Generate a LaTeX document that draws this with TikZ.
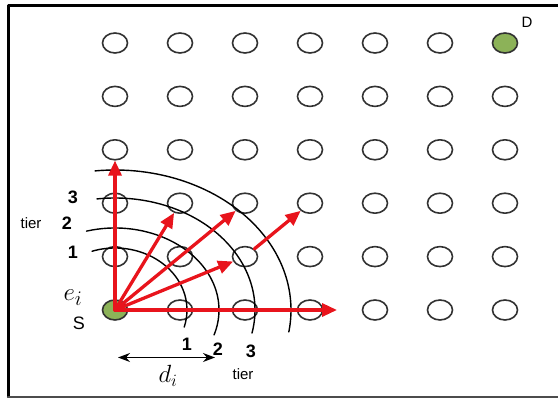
\documentclass[tikz,border=0pt]{standalone}
\usepackage{fontspec}
\setmainfont{Liberation Sans}
\usetikzlibrary{shapes.geometric,arrows.meta}
\definecolor{hopred}{RGB}{232,20,28}
\definecolor{nodegreen}{RGB}{140,178,88}
\definecolor{rimgray}{RGB}{50,50,50}

\begin{document}
\begin{tikzpicture}[x=1pt, y=1pt, line cap=round, line join=round,
  site/.style={ellipse, draw=rimgray, line width=1.6pt, minimum width=25pt, minimum height=20pt, inner sep=0pt},
  hop/.style={draw=hopred, line width=3.3pt, -{Triangle[length=15pt,width=13pt]}},
  tierarc/.style={line width=1.4pt},
  num/.style={font=\fontsize{18}{18}\selectfont\bfseries},
  word/.style={font=\fontsize{15}{15}\selectfont}]
  \def\dx{65}
  \def\dy{53.4}

  \useasboundingbox (0,0) rectangle (558,398);

  % cornice
  \draw[line width=3pt] (560,392) -- (8,392) -- (8,1);
  \draw[line width=2.4pt, black!70] (8,1) -- (560,1);

  % griglia di nodi (S in basso a sinistra, D in alto a destra)
  \foreach \i in {0,...,6}
    \foreach \j in {0,...,5}{
      \def\fillc{none}
      \ifnum\i\j=0 \def\fillc{nodegreen}\fi
      \ifnum\i\j=65 \def\fillc{nodegreen}\fi
      \node[site, fill=\fillc] (n-\i-\j) at ({115+\dx*\i},{88+\dy*\j}) {};
    }

  % archi dei tier
  \foreach \rx/\ry/\sa/\ea in {72/62/108.6/-16, 104/82/105.9/-17.7, 140/112/97.4/-11.9, 176/140/96.5/-9}
    \draw[tierarc] (n-0-0.center) ++(\sa:\rx pt and \ry pt)
      arc[start angle=\sa, end angle=\ea, x radius=\rx pt, y radius=\ry pt];

  % frecce
  \coordinate (far) at ([xshift=222pt]n-0-0.center);
  \draw[hop] (n-0-0.center) -- (n-0-3);
  \draw[hop] (n-0-0.center) -- (n-1-2);
  \draw[hop] (n-0-0.center) -- (n-2-2);
  \draw[hop] (n-0-0.center) -- (n-2-1);
  \draw[hop] (n-2-1) -- (n-3-2);
  \draw[hop] (n-0-0.center) -- (far);

  % etichette tier
  \node[num] (l3) at (73,201) {3};
  \node[num] (l2) at (67,175) {2};
  \node[num] (l1) at (73,146) {1};
  \node[word] (tl) at (31,175) {tier};
  \node[num] (b1) at (187,54) {1};
  \node[num] (b2) at (218,49) {2};
  \node[num] (b3) at (251,47) {3};
  \node[word] (tb) at (243,24) {tier};

  % sorgente e destinazione
  \node[font=\fontsize{30}{30}\selectfont] (ei) at (73,100) {$e_i$};
  \node[font=\fontsize{18}{18}\selectfont] (src) at (79,75) {S};
  \node[font=\fontsize{15}{15}\selectfont] (dst) at (527,376) {D};

  % distanza d_i
  \coordinate (dl) at (118,40.5);
  \coordinate (dr) at (215,40.5);
  \draw[line width=1.4pt, {Stealth[length=12pt,width=9pt]}-{Stealth[length=12pt,width=9pt]}] (dl) -- (dr);
  \node[font=\fontsize{27}{27}\selectfont] (di) at (168,22) {$d_i$};
\end{tikzpicture}
\end{document}
